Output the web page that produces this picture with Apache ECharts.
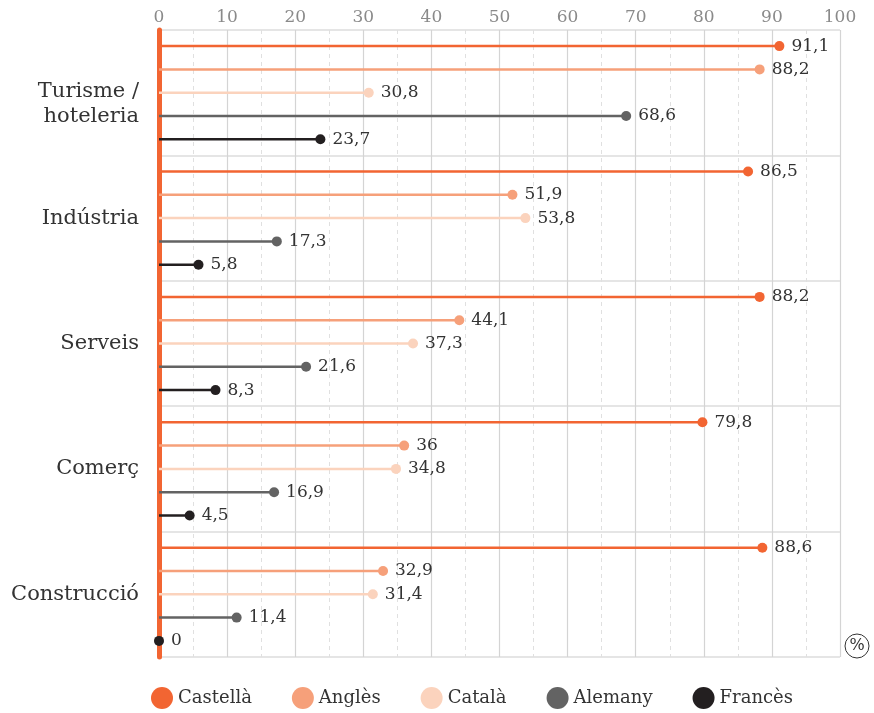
<!DOCTYPE html>
<html><head><meta charset="utf-8">
<script src="https://cdn.jsdelivr.net/npm/echarts@6/dist/echarts.min.js"></script>
<style>html,body{margin:0;padding:0;background:#fff}#c{width:874px;height:713px}</style>
</head><body><div id="c"></div>
<script>
const categories = ['Turisme /\nhoteleria', 'Indústria', 'Serveis', 'Comerç', 'Construcció'];
const seriesNames = ['Castellà', 'Anglès', 'Català', 'Alemany', 'Francès'];
const castella = [91.1, 86.5, 88.2, 79.8, 88.6];
const angles = [88.2, 51.9, 44.1, 36, 32.9];
const catala = [30.8, 53.8, 37.3, 34.8, 31.4];
const alemany = [68.6, 17.3, 21.6, 16.9, 11.4];
const frances = [23.7, 5.8, 8.3, 4.5, 0];
const xTicks = [0, 10, 20, 30, 40, 50, 60, 70, 80, 90, 100];

const values = [castella, angles, catala, alemany, frances];
const colors = ['#f26532', '#f6a07a', '#fbd3bd', '#636363', '#231f20'];
const FONT = 'DejaVu Serif';
const BW = 2.5, GAP = '832%';

const series = [];
values.forEach((v, i) => {
  series.push({
    type: 'bar', name: seriesNames[i], data: v,
    barWidth: BW, barGap: GAP,
    itemStyle: { color: colors[i] },
    label: {
      show: true, position: 'right', distance: 12,
      color: '#333', fontFamily: FONT, fontSize: 17,
      formatter: p => String(p.value).replace('.', ',')
    },
    z: 2
  });
});
values.forEach((v, i) => {
  series.push({
    type: 'pictorialBar', name: seriesNames[i], data: v,
    barWidth: BW, barGap: GAP,
    symbol: 'circle', symbolSize: [10, 10], symbolPosition: 'end',
    symbolOffset: ['50%', 0],
    itemStyle: { color: colors[i] },
    z: 3
  });
});

const chart = echarts.init(document.getElementById('c'));
chart.setOption({
  animation: false,
  grid: { left: 159, right: 34, top: 30, bottom: 56 },
  xAxis: {
    type: 'value', position: 'top', min: 0, max: 100, interval: 10,
    axisLine: { show: false },
    axisTick: { show: false },
    axisLabel: { color: '#8a8a8a', fontFamily: FONT, fontSize: 17, margin: 4 },
    splitLine: { show: true, lineStyle: { color: '#d4d4d4', width: 1.2 } },
    minorTick: { show: false, splitNumber: 2 },
    minorSplitLine: { show: true, lineStyle: { color: '#e0e0e0', type: [4, 4], width: 1 } }
  },
  yAxis: {
    type: 'category', data: categories, inverse: true,
    axisLine: { show: true, lineStyle: { color: '#f26532', width: 5 } },
    axisTick: { show: false },
    axisLabel: {
      color: '#333', fontFamily: FONT, fontSize: 21, lineHeight: 25, margin: 20, align: 'right',
      formatter: v => v.indexOf('\n') >= 0
        ? '{s| }\n' + v.split('\n').map(t => '{a|' + t + '}').join('\n')
        : v,
      rich: {
        s: { fontSize: 4, lineHeight: 22 },
        a: { color: '#333', fontFamily: FONT, fontSize: 21, lineHeight: 25 }
      }
    },
    splitLine: { show: true, lineStyle: { color: '#dcdcdc', width: 1.5 } }
  },
  legend: {
    data: seriesNames, bottom: 4, left: 151, padding: 0, icon: 'circle',
    itemWidth: 22, itemHeight: 22, itemGap: 40,
    textStyle: { color: '#333', fontFamily: FONT, fontSize: 18 }
  },
  graphic: [
    { type: 'circle', shape: { cx: 857, cy: 646, r: 12 }, style: { fill: 'none', stroke: '#333', lineWidth: 1 } },
    { type: 'text', x: 857, y: 646, style: { text: '%', fill: '#333', fontFamily: FONT, fontSize: 16, align: 'center', verticalAlign: 'middle' } }
  ],
  series: series
});
</script></body></html>
